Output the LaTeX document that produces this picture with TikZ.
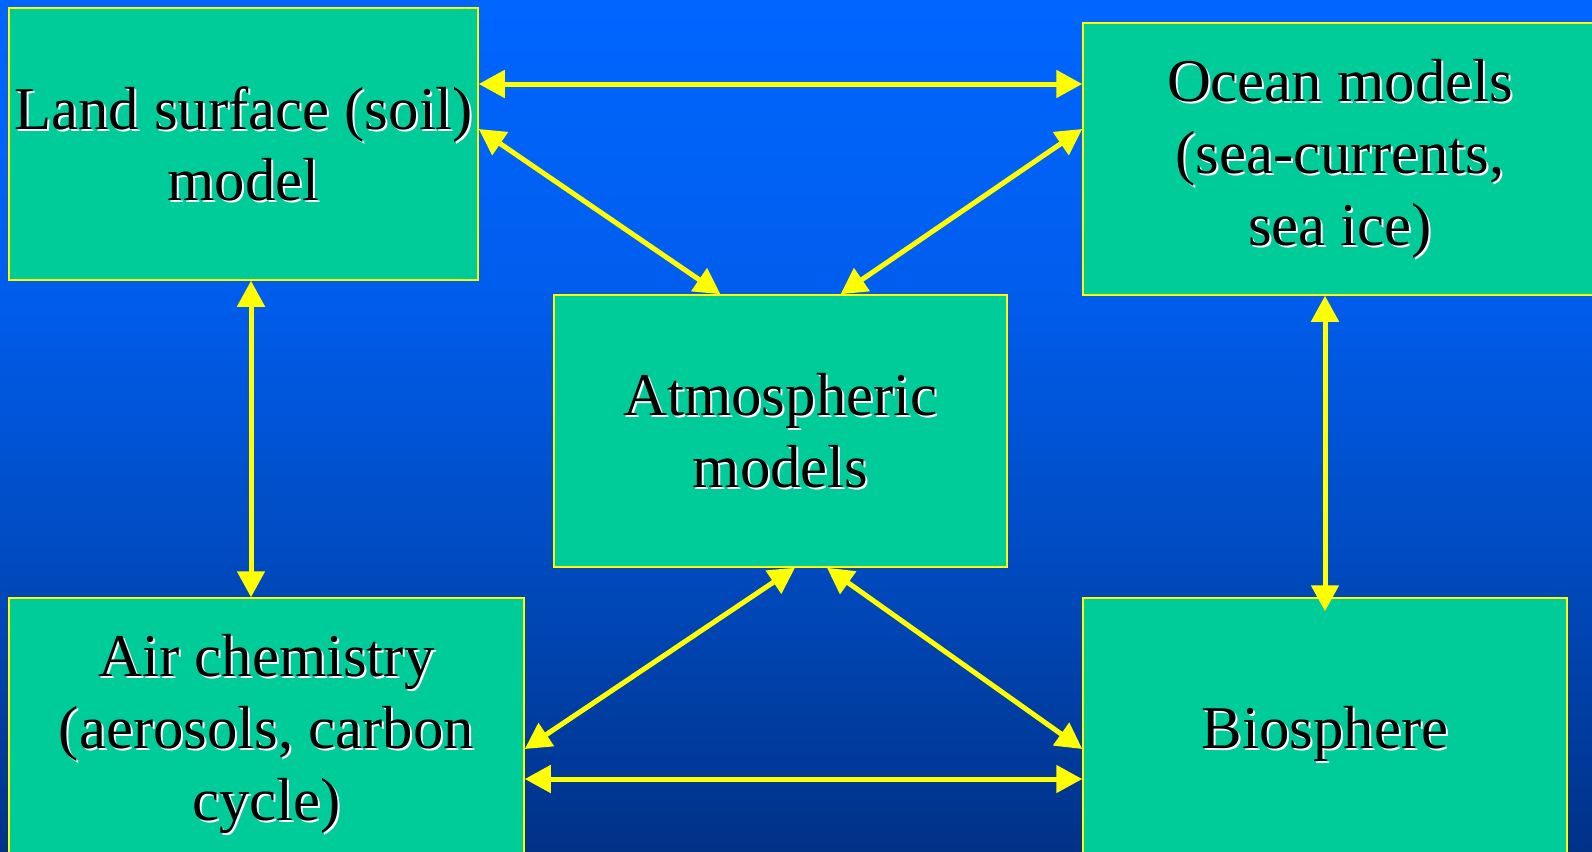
\documentclass[tikz,border=0pt]{standalone}
\usepackage{fontspec}
\setmainfont{Liberation Serif}
\usetikzlibrary{arrows.meta}
\definecolor{slidetop}{RGB}{0,102,255}
\definecolor{slidehigh}{RGB}{0,94,238}
\definecolor{slidelow}{RGB}{0,74,190}
\definecolor{slidebot}{RGB}{0,50,135}
\definecolor{boxgreen}{RGB}{0,204,153}
\definecolor{linkyellow}{RGB}{255,255,0}
\pgfdeclareverticalshading{slidefade}{100bp}{color(0bp)=(slidebot); color(25bp)=(slidebot); color(41.5bp)=(slidelow); color(58.5bp)=(slidehigh); color(75bp)=(slidetop); color(100bp)=(slidetop)}

\begin{document}
\begin{tikzpicture}[x=1bp,y=-1bp,
  modelbox/.style={draw=linkyellow,line width=1.5bp,fill=boxgreen,minimum height=272bp,inner sep=0pt},
  boxtext/.style={align=center,font=\fontsize{61}{72}\selectfont,inner sep=0pt},
  boxshadow/.style={boxtext,text=white},
  link/.style={draw=linkyellow,line width=5bp,{Triangle[length=26bp,width=27bp]}-{Triangle[length=26bp,width=27bp]}}]
\shade[shading=slidefade] (0,0) rectangle (1592,851);
\useasboundingbox (0,0) rectangle (1592,851);
\clip (0,0) rectangle (1592,851);

\node[modelbox,minimum width=469bp] (land) at (243.5,144) {};
\node[boxshadow] (landshadow) at ([shift={(2bp,-2bp)}]land.center) {Land surface (soil)\\model};
\node[boxtext] (landtext) at (land.center) {Land surface (soil)\\model};

\node[modelbox,minimum width=514bp] (ocean) at (1340,159) {};
\node[boxshadow] (oceanshadow) at ([shift={(2bp,-2bp)}]ocean.center) {Ocean models\\(sea-currents,\\sea ice)};
\node[boxtext] (oceantext) at (ocean.center) {Ocean models\\(sea-currents,\\sea ice)};

\node[modelbox,minimum width=453bp] (atmo) at (780.5,431) {};
\node[boxshadow] (atmoshadow) at ([shift={(2bp,-2bp)}]atmo.center) {Atmospheric\\models};
\node[boxtext] (atmotext) at (atmo.center) {Atmospheric\\models};

\node[modelbox,minimum width=515bp] (air) at (266.5,734) {};
\node[boxshadow] (airshadow) at ([shift={(2bp,-2bp)}]air.center) {Air chemistry\\(aerosols, carbon\\cycle)};
\node[boxtext] (airtext) at (air.center) {Air chemistry\\(aerosols, carbon\\cycle)};

\node[modelbox,minimum width=484bp] (bio) at (1325,734) {};
\node[boxshadow] (bioshadow) at ([shift={(2bp,-2bp)}]bio.center) {Biosphere};
\node[boxtext] (biotext) at (bio.center) {Biosphere};

\draw[link] ([yshift=60bp]land.east) -- ([yshift=60bp]land.east -| ocean.west);
\draw[link] ([yshift=15bp]land.east) -- ([xshift=-60bp]atmo.north);
\draw[link] ([yshift=30bp]ocean.west) -- ([xshift=60bp]atmo.north);
\draw[link] ([xshift=7.5bp]land.south) -- ([xshift=7.5bp]land.south |- air.north);
\draw[link] ([xshift=-15bp]ocean.south) -- ([xshift=-15bp,yshift=-14bp]ocean.south |- bio.north);
\draw[link] ([xshift=14.5bp]atmo.south) -- ([yshift=-15bp]air.east);
\draw[link] ([xshift=46.5bp]atmo.south) -- ([yshift=-15bp]bio.west);
\draw[link] ([yshift=-45bp]air.east) -- ([yshift=-45bp]air.east -| bio.west);
\end{tikzpicture}
\end{document}
